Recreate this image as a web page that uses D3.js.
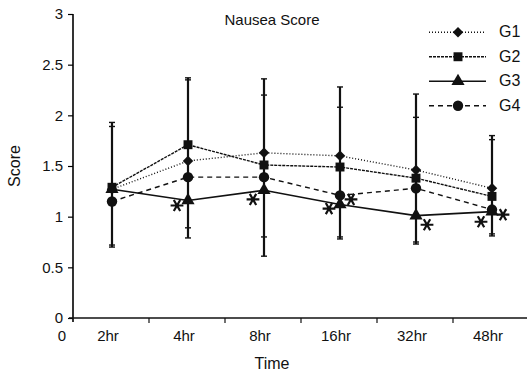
<!DOCTYPE html>
<html>
<head>
<meta charset="utf-8">
<script src="https://cdn.jsdelivr.net/npm/d3@7"></script>
<style>
  body { margin: 0; background: #fff; }
  text { font-family: "Liberation Sans", Arial, sans-serif; fill: #111; }
</style>
</head>
<body>
<div class="chart"></div>
<script>
(function() {
  var width = 527, height = 376;

  // data
  var times = ["2hr", "4hr", "8hr", "16hr", "32hr", "48hr"];
  var groups = ["G1", "G2", "G3", "G4"];
  var g1 = [1.27, 1.55, 1.63, 1.60, 1.46, 1.28];
  var g2 = [1.29, 1.71, 1.51, 1.49, 1.38, 1.20];
  var g3 = [1.27, 1.16, 1.26, 1.12, 1.01, 1.05];
  var g4 = [1.15, 1.39, 1.39, 1.21, 1.28, 1.07];
  var errTop = [1.93, 2.37, 2.36, 2.28, 2.21, 1.80];
  var errTop2 = [1.89, 2.35, 2.20, 2.08, 1.98, 1.76];
  var errBottom = [0.70, 0.79, 0.61, 0.78, 0.73, 0.81];
  var errBottom2 = [0.72, 0.89, 0.80, 0.80, 0.75, 0.83];
  var yTicks = [0, 0.5, 1, 1.5, 2, 2.5, 3];
  // significance asterisks: time, side (-1 left / 1 right), value
  var starTime = ["4hr", "8hr", "16hr", "16hr", "32hr", "48hr", "48hr"];
  var starSide = [-1, -1, -1, 1, 1, -1, 1];
  var starValue = [1.11, 1.17, 1.08, 1.17, 0.92, 0.95, 1.02];

  var series = [g1, g2, g3, g4];
  var dashes = ["1,2", "3,1", null, "5,4"];
  var symbols = [d3.symbolSquare, d3.symbolSquare, d3.symbolTriangle, d3.symbolCircle];
  var symSizes = [55, 80, 75, 85];
  var symRot = [45, 0, 0, 0];

  var svg = d3.select(".chart").append("svg")
    .attr("width", width)
    .attr("height", height);

  var x = d3.scaleBand().domain(times).range([73, 529]);
  var y = d3.scaleLinear().domain([0, 3]).range([318, 14]);

  // y axis
  var yAxis = svg.append("g")
    .attr("transform", "translate(73,0)")
    .call(d3.axisLeft(y).tickValues(yTicks).tickSize(5).tickPadding(5)
      .tickFormat(function(d) { return d3.format("")(d); }));
  yAxis.select(".domain").attr("d", "M0,14V322").attr("stroke-width", 1.6);
  yAxis.selectAll(".tick line").attr("stroke-width", 1.2);
  yAxis.selectAll("text").style("font-size", "15px");

  // x axis, ticks at band boundaries
  var xAxis = svg.append("g").attr("transform", "translate(0,318)");
  xAxis.append("line").attr("x1", 69).attr("x2", 527).attr("stroke", "#111").attr("stroke-width", 1.6);
  xAxis.selectAll(".tk")
    .data(times.slice(1))
    .enter().append("line")
      .attr("x1", function(d) { return x(d); })
      .attr("x2", function(d) { return x(d); })
      .attr("y2", 5)
      .attr("stroke", "#111").attr("stroke-width", 1.2);
  xAxis.selectAll(".lbl")
    .data(times)
    .enter().append("text")
      .attr("x", function(d) { return x(d) + x.bandwidth() / 2 - 3; })
      .attr("y", 23)
      .attr("text-anchor", "middle")
      .style("font-size", "15px")
      .text(function(d) { return d; });
  xAxis.append("text").attr("x", 62).attr("y", 23).attr("text-anchor", "middle")
    .style("font-size", "15px").text("0");

  svg.append("text").attr("x", 272).attr("y", 369).attr("text-anchor", "middle")
    .style("font-size", "16px").text("Time");
  svg.append("text").attr("transform", "translate(20,166) rotate(-90)")
    .attr("text-anchor", "middle").style("font-size", "16px").text("Score");
  svg.append("text").attr("x", 272).attr("y", 25).attr("text-anchor", "middle")
    .style("font-size", "15px").text("Nausea Score");

  function cx(i) { return x(times[i]) + x.bandwidth() / 2 + 1; }

  // error bars
  var eb = svg.append("g").attr("stroke", "#111");
  times.forEach(function(t, i) {
    eb.append("line").attr("x1", cx(i)).attr("x2", cx(i))
      .attr("y1", y(errTop[i])).attr("y2", y(errBottom[i])).attr("stroke-width", 2.2);
    [errTop[i], errTop2[i], errBottom[i], errBottom2[i]].forEach(function(v) {
      eb.append("line").attr("x1", cx(i) - 3).attr("x2", cx(i) + 3)
        .attr("y1", y(v)).attr("y2", y(v)).attr("stroke-width", 1.4);
    });
  });

  // lines and markers
  var line = d3.line()
    .x(function(d, i) { return cx(i); })
    .y(function(d) { return y(d); });

  series.forEach(function(s, k) {
    svg.append("path")
      .attr("d", line(s))
      .attr("fill", "none")
      .attr("stroke", "#111")
      .attr("stroke-width", k === 2 ? 1.6 : 1.4)
      .attr("stroke-dasharray", dashes[k]);
  });
  series.forEach(function(s, k) {
    svg.append("g").selectAll("path")
      .data(s)
      .enter().append("path")
        .attr("transform", function(d, i) {
          return "translate(" + cx(i) + "," + y(d) + ") rotate(" + symRot[k] + ")";
        })
        .attr("d", d3.symbol().type(symbols[k]).size(symSizes[k]))
        .attr("fill", "#111");
  });

  // asterisks
  var star = d3.symbol().type(d3.symbolAsterisk).size(115);
  starTime.forEach(function(t, i) {
    var px = x(t) + x.bandwidth() / 2 + 1 + starSide[i] * 11;
    svg.append("path")
      .attr("transform", "translate(" + px + "," + y(starValue[i]) + ") rotate(90)")
      .attr("d", star())
      .attr("fill", "none")
      .attr("stroke", "#111")
      .attr("stroke-width", 2.2);
  });

  // legend
  var legY = d3.scaleBand().domain(groups).range([20, 118]);
  var leg = svg.append("g").selectAll("g")
    .data(groups)
    .enter().append("g")
      .attr("transform", function(d) { return "translate(0," + (legY(d) + legY.bandwidth() / 2) + ")"; });
  leg.append("line").attr("x1", 429).attr("x2", 486)
    .attr("stroke", "#111").attr("stroke-width", function(d, k) { return k === 2 ? 1.6 : 1.4; })
    .attr("stroke-dasharray", function(d, k) { return dashes[k]; });
  leg.append("path")
    .attr("transform", function(d, k) { return "translate(458,0) rotate(" + symRot[k] + ")"; })
    .attr("d", function(d, k) { return d3.symbol().type(symbols[k]).size(symSizes[k])(); })
    .attr("fill", "#111");
  leg.append("text").attr("x", 499).attr("y", 5).style("font-size", "16px")
    .text(function(d) { return d; });
})();
</script>
</body>
</html>
